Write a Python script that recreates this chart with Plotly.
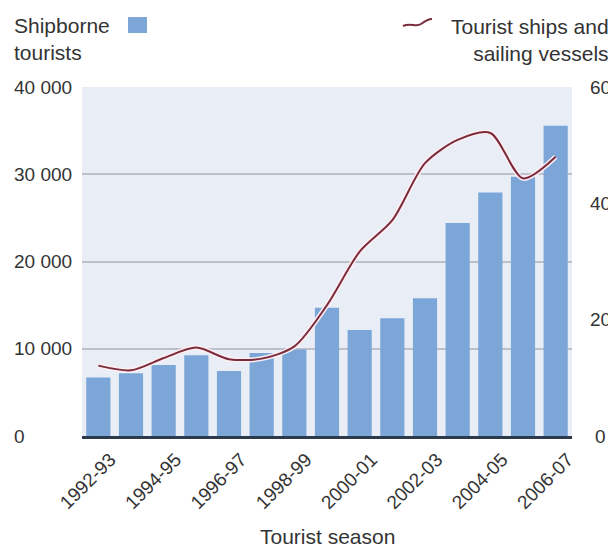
import plotly.graph_objects as go

seasons = ["1992-93", "1993-94", "1994-95", "1995-96", "1996-97", "1997-98", "1998-99",
           "1999-00", "2000-01", "2001-02", "2002-03", "2003-04", "2004-05", "2005-06", "2006-07"]
shipborne_tourists = [6700, 7200, 8150, 9250, 7450, 9500, 9900, 14700, 12150, 13500,
                      15800, 24400, 27900, 29700, 35550]
ships_and_vessels = [12.1, 11.3, 13.4, 15.2, 13.2, 13.3, 15.4, 22.5, 31.7, 37.1,
                     46.9, 50.9, 52.1, 44.3, 48.0]
shown_ticks = ["1992-93", "1994-95", "1996-97", "1998-99", "2000-01", "2002-03", "2004-05", "2006-07"]
left_ticks = [0, 10000, 20000, 30000, 40000]
left_tick_text = ["0", "10 000", "20 000", "30 000", "40 000"]
right_ticks = [0, 20, 40, 60]

OFF = 8  # page body margin
W, H = 616 - OFF, 550 - OFF
L, R, T, B = 82 - OFF, 44, 87 - OFF, 114
PW, PH = W - L - R, H - T - B

def px(x):
    return (x - OFF - L) / PW

def py(y):
    return (H - B - (y - OFF)) / PH

FONT = "Liberation Sans, Arial, sans-serif"
TXT = "#333333"

fig = go.Figure()
fig.add_trace(go.Bar(x=seasons, y=shipborne_tourists, marker=dict(color="#7ba6d7", line=dict(width=0)),
                     yaxis="y"))
fig.add_trace(go.Scatter(x=seasons, y=ships_and_vessels, mode="lines", yaxis="y2",
                         line=dict(color="rgba(255,238,242,0.95)", width=5, shape="spline", smoothing=0.8),
                         hoverinfo="skip"))
fig.add_trace(go.Scatter(x=seasons, y=ships_and_vessels, mode="lines", yaxis="y2",
                         line=dict(color="#7a2b3c", width=2, shape="spline", smoothing=0.8)))

annotations = []
for v, t in zip(left_ticks, left_tick_text):
    annotations.append(dict(x=px(12), y=v, xref="paper", yref="y", text=t, showarrow=False,
                            xanchor="left", yanchor="middle", font=dict(size=19, color=TXT, family=FONT)))
for v in right_ticks:
    annotations.append(dict(x=px(600), y=v, xref="paper", yref="y2", text=str(v), showarrow=False,
                            xanchor="center", yanchor="middle", font=dict(size=19, color=TXT, family=FONT)))
annotations.append(dict(x=px(12), y=py(39), xref="paper", yref="paper", text="Shipborne<br>tourists",
                        showarrow=False, xanchor="left", yanchor="middle", align="left",
                        font=dict(size=21, color=TXT, family=FONT)))
annotations.append(dict(x=px(611), y=py(40), xref="paper", yref="paper",
                        text="Tourist ships and<br>sailing vessels",
                        showarrow=False, xanchor="right", yanchor="middle", align="right",
                        font=dict(size=21, color=TXT, family=FONT)))
annotations.append(dict(x=px(327), y=py(536), xref="paper", yref="paper", text="Tourist season",
                        showarrow=False, xanchor="center", yanchor="middle",
                        font=dict(size=21, color=TXT, family=FONT)))

shapes = [
    dict(type="rect", xref="paper", yref="paper", x0=px(128), x1=px(147), y0=py(33), y1=py(17),
         fillcolor="#7ba6d7", line=dict(width=0)),
    dict(type="path", xref="paper", yref="paper",
         path=f"M {px(403)},{py(26)} C {px(412)},{py(22)} {px(415)},{py(28)} {px(421)},{py(24)} "
              f"C {px(425)},{py(21)} {px(428)},{py(19)} {px(432)},{py(19)}",
         line=dict(color="#7a2b3c", width=2)),
]

fig.update_layout(
    width=W, height=H,
    margin=dict(l=L, r=R, t=T, b=B, pad=0),
    paper_bgcolor="white", plot_bgcolor="#e9eef6",
    showlegend=False, bargap=0.26,
    font=dict(family=FONT, color=TXT),
    xaxis=dict(type="category", categoryorder="array", categoryarray=seasons,
               tickvals=shown_ticks, ticktext=shown_ticks, tickangle=-45,
               tickfont=dict(size=19, color=TXT, family=FONT),
               showline=True, linecolor="#2d3a4b", linewidth=3, ticks="",
               showgrid=False, zeroline=False, ticklabelstandoff=2, ticklabelshift=12),
    yaxis=dict(range=[0, 40000], tickvals=left_ticks, showticklabels=False, showgrid=True,
               gridcolor="#bcc1c9", gridwidth=1.5, zeroline=False, ticks=""),
    yaxis2=dict(range=[0, 60], overlaying="y", side="right", showticklabels=False,
                showgrid=False, zeroline=False, ticks=""),
    annotations=annotations, shapes=shapes,
)

fig.write_html("out.html")
